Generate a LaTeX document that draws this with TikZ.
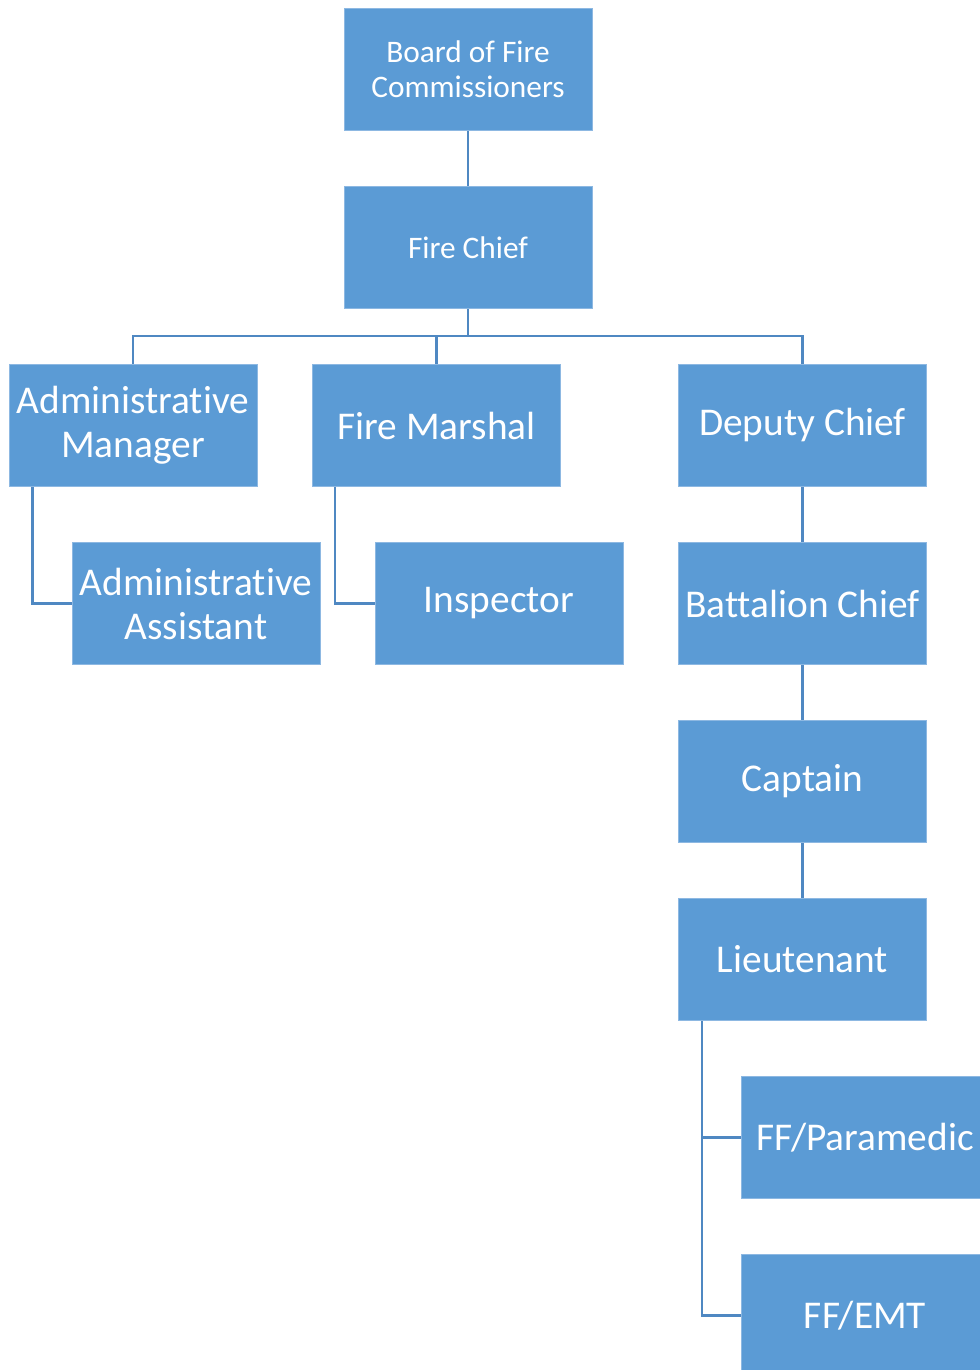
\documentclass[tikz,border=0pt]{standalone}
\usepackage{fontspec}
\setmainfont{Carlito}[Ligatures={NoCommon,NoRare}]
\definecolor{boxfill}{HTML}{5B9BD5}
\definecolor{boxedge}{HTML}{8DB8E2}
\definecolor{linec}{HTML}{4F88C2}
\begin{document}
\begin{tikzpicture}[x=0.75pt,y=-0.75pt,
  box/.style={rectangle, fill=boxfill, draw=boxedge, line width=0.6pt, text=white,
    minimum width=186pt, minimum height=92pt, align=center, inner sep=1pt,
    font=\fontsize{29.5}{33}\selectfont},
  smallbox/.style={box, font=\fontsize{23.5}{26.5}\selectfont},
  conn/.style={draw=linec, line width=2pt}]
\useasboundingbox (0,0) rectangle (980,1370);
\clip (0,0) rectangle (980,1370);
\node[smallbox] (board) at (468,69.5) {Board of Fire\\Commissioners};
\node[smallbox] (chief) at (468,247.5) {Fire Chief};
\node[box] (am) at (133,425.5) {Administrative\\Manager};
\node[box] (fm) at (436.5,425.5) {Fire Marshal};
\node[box] (dc) at (802.5,425.5) {Deputy Chief};
\node[box] (aa) at (196,603.5) {Administrative\\Assistant};
\node[box] (insp) at (499,603.5) {Inspector};
\node[box] (bc) at (802.5,603.5) {Battalion Chief};
\node[box] (cap) at (802.5,781.5) {Captain};
\node[box] (lt) at (802.5,959.5) {Lieutenant};
\node[box] (ffp) at (865,1137.5) {FF/Paramedic};
\node[box] (ffe) at (865,1315.5) {FF/EMT};
\coordinate (hub) at (468,336);
\draw[conn] (board) -- (chief);
\draw[conn] (chief) -- (hub);
\draw[conn] (am.north) |- (hub);
\draw[conn] (hub) -| (dc.north);
\draw[conn] (fm.north) |- (hub);
\draw[conn] ([xshift=18pt]am.south west) |- (aa.west);
\draw[conn] ([xshift=17.25pt]fm.south west) |- (insp.west);
\draw[conn] (dc) -- (bc);
\draw[conn] (bc) -- (cap);
\draw[conn] (cap) -- (lt);
\draw[conn] ([xshift=18pt]lt.south west) |- (ffp.west);
\draw[conn] ([xshift=18pt]lt.south west) |- (ffe.west);
\end{tikzpicture}
\end{document}
